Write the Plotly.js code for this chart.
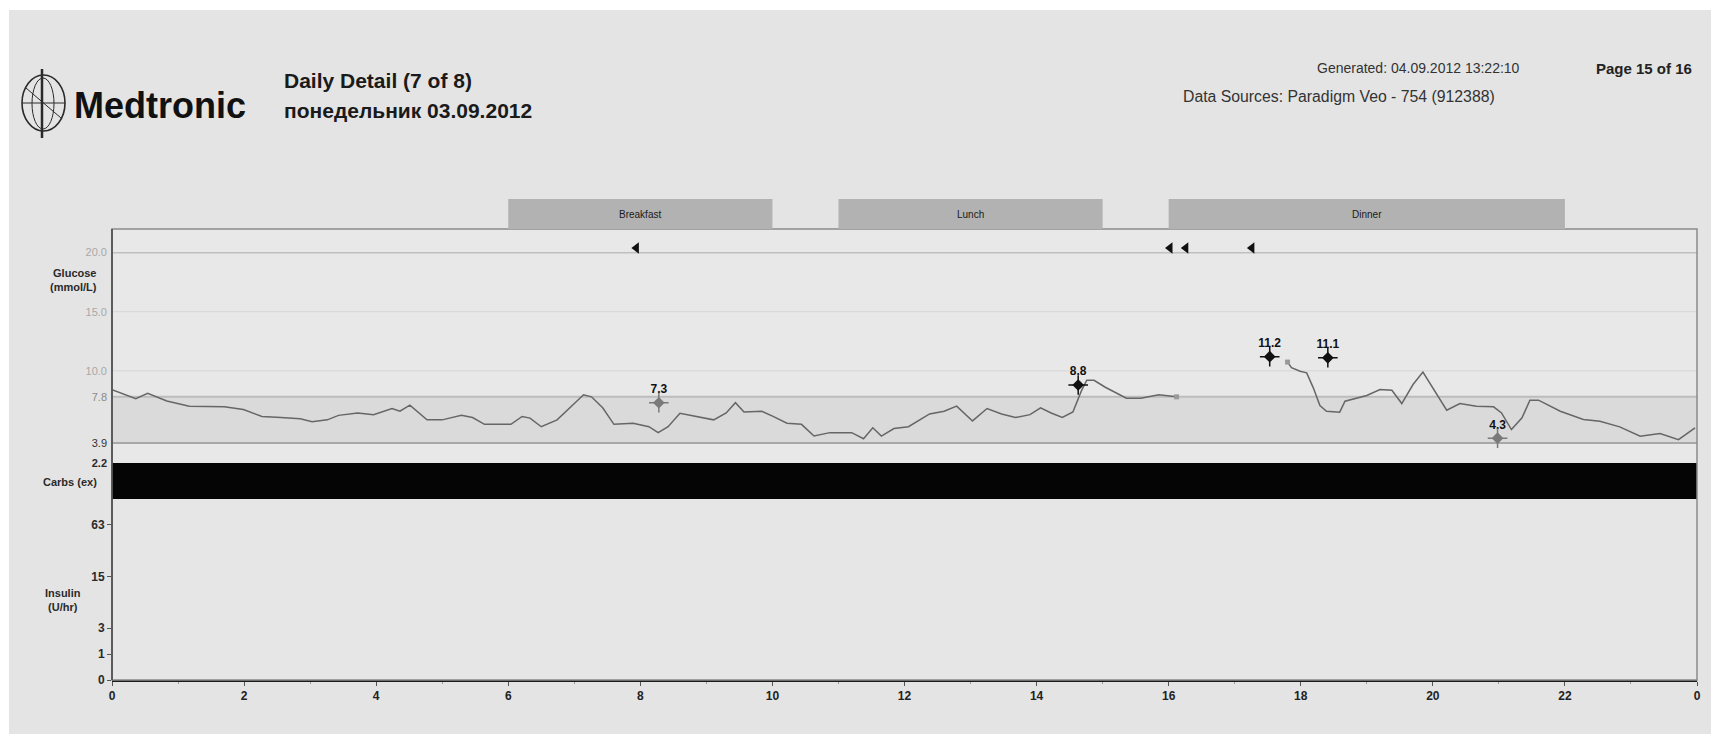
<!DOCTYPE html>
<html>
<head>
<meta charset="utf-8">
<script src="https://cdn.plot.ly/plotly-3.0.1.min.js"></script>
<style>
  html, body { margin: 0; padding: 0; background: #ffffff; }
  #chart { width: 1711px; height: 734px; }
</style>
</head>
<body>
<div id="chart"></div>
<script>
// ---------------- DATA ----------------
// Sensor glucose (mmol/L), segment 1 (before sensor gap)
const sgHours1 = [0.00,0.36,0.54,0.83,1.17,1.70,1.99,2.27,2.56,2.85,3.03,3.26,3.43,3.72,3.96,4.24,4.36,4.51,4.77,5.00,5.29,5.46,5.64,6.04,6.21,6.33,6.50,6.74,7.14,7.26,7.43,7.60,7.89,8.13,8.27,8.42,8.60,8.87,9.11,9.30,9.44,9.57,9.84,10.01,10.22,10.44,10.63,10.87,11.20,11.38,11.52,11.65,11.84,12.06,12.38,12.60,12.79,13.03,13.25,13.47,13.68,13.90,14.06,14.22,14.39,14.55,14.63,14.68,14.76,14.87,15.04,15.36,15.58,15.85,16.12];
const sgValues1 = [8.4,7.65,8.09,7.45,7.0,6.96,6.72,6.14,6.05,5.94,5.7,5.85,6.23,6.43,6.29,6.81,6.58,7.1,5.85,5.85,6.23,6.05,5.47,5.47,6.14,6.0,5.27,5.85,7.97,7.8,6.87,5.47,5.56,5.27,4.77,5.27,6.4,6.14,5.85,6.43,7.3,6.52,6.58,6.14,5.56,5.47,4.48,4.77,4.77,4.25,5.18,4.48,5.12,5.27,6.35,6.58,7.01,5.76,6.81,6.35,6.05,6.29,6.87,6.43,6.05,6.52,7.6,8.32,9.2,9.2,8.61,7.68,7.68,7.97,7.8];
// Sensor glucose, segment 2 (after gap)
const sgHours2 = [17.80,17.86,17.99,18.09,18.19,18.29,18.39,18.59,18.67,18.85,19.00,19.20,19.38,19.53,19.70,19.85,20.01,20.21,20.41,20.66,20.92,21.04,21.19,21.35,21.47,21.60,21.93,22.28,22.53,22.83,23.14,23.44,23.72,23.97];
const sgValues2 = [10.74,10.26,9.97,9.83,8.56,7.06,6.58,6.5,7.43,7.71,7.91,8.42,8.36,7.23,8.84,9.89,8.42,6.67,7.23,7.01,6.95,6.44,5.03,6.02,7.52,7.52,6.58,5.88,5.74,5.26,4.46,4.69,4.18,5.17];
// Sensor segment end points (small grey squares)
const sgEdgeHours = [16.12, 17.80];
const sgEdgeValues = [7.8, 10.74];

// Meter BG readings
const bgHours = [8.28, 14.63, 17.53, 18.41, 20.98];
const bgValues = [7.3, 8.8, 11.2, 11.1, 4.3];
const bgLabels = ["7.3", "8.8", "11.2", "11.1", "4.3"];
const bgUsedForCal = [false, true, true, true, false];

// Bolus events (hours)
const bolusHours = [7.94, 16.02, 16.26, 17.26];
const bolusLevel = 20.4;

// Meal periods
const mealNames = ["Breakfast", "Lunch", "Dinner"];
const mealStart = [6, 11, 16];
const mealEnd = [10, 15, 22];

// Target range (mmol/L)
const targetLow = 3.9;
const targetHigh = 7.8;

// Axis ticks
const xTickVals = [0,2,4,6,8,10,12,14,16,18,20,22,24];
const xTickText = ["0","2","4","6","8","10","12","14","16","18","20","22","0"];
const glucoseTickVals = [3.9, 7.8, 10.0, 15.0, 20.0];
const glucoseTickText = ["3.9", "7.8", "10.0", "15.0", "20.0"];
const glucoseTickColors = ["#333333", "#8a8a8a", "#a8a8a8", "#a8a8a8", "#a8a8a8"];
const carbsTickVals = [2.2];
const carbsTickText = ["2.2"];
const insulinTickUnits = [0, 1, 3, 15, 63];
const insulinTickText = ["0", "1", "3", "15", "63"];

// ---------------- LAYOUT HELPERS ----------------
const W = 1711, H = 734;
const L = 112, R = 1697, T = 229, B = 680;
const PW = R - L, PH = B - T;
const px = x => (x - L) / PW;
const py = y => (B - y) / PH;

const FONT = "Liberation Sans Narrow, Liberation Sans, Arial, sans-serif";
const FONT_REG = "Liberation Sans, Arial, sans-serif";

const domIns = [0, py(499)];
const domCarb = [py(499), py(463)];
const domGlu = [py(463), 1];

// ---------------- TRACES ----------------
const sgX = sgHours1.concat([null], sgHours2);
const sgY = sgValues1.concat([null], sgValues2);

const traces = [
  {
    x: sgX, y: sgY, xaxis: "x", yaxis: "y", type: "scatter", mode: "lines",
    line: { color: "#666666", width: 1.5 }, connectgaps: false, hoverinfo: "x+y", showlegend: false
  },
  {
    x: sgEdgeHours, y: sgEdgeValues, xaxis: "x", yaxis: "y", type: "scatter", mode: "markers",
    marker: { symbol: "square", size: 5, color: "#9a9a9a" }, showlegend: false
  },
  {
    x: bgHours, y: bgValues, xaxis: "x", yaxis: "y", type: "scatter", mode: "markers+text",
    text: bgLabels, textposition: "top center",
    textfont: { family: FONT, size: 12, color: "#111", weight: "bold" },
    marker: { symbol: "diamond", size: 9, color: bgUsedForCal.map(c => c ? "#111" : "#7a7a7a") },
    showlegend: false
  },
  {
    x: bgHours, y: bgValues, xaxis: "x", yaxis: "y", type: "scatter", mode: "markers",
    marker: { symbol: "cross-thin", size: 14, line: { width: 1.5, color: bgUsedForCal.map(c => c ? "#111" : "#7a7a7a") } },
    showlegend: false, hoverinfo: "skip"
  },
  {
    x: bolusHours, y: bolusHours.map(() => bolusLevel), xaxis: "x", yaxis: "y", type: "scatter", mode: "markers",
    marker: { symbol: "triangle-left", size: 10, color: "#111" }, showlegend: false
  },
  // invisible traces to activate carbs and insulin axes
  { x: [0, 24], y: [0, 0], xaxis: "x", yaxis: "y2", type: "scatter", mode: "lines", line: { width: 0 }, hoverinfo: "skip", showlegend: false },
  { x: [0, 24], y: [0, 0], xaxis: "x", yaxis: "y3", type: "scatter", mode: "lines", line: { width: 0 }, hoverinfo: "skip", showlegend: false }
];

// ---------------- SHAPES ----------------
const shapes = [];
// page background (thin white border top/left)
shapes.push({ type: "rect", xref: "paper", yref: "paper", x0: px(9), x1: px(W + 5), y0: py(H + 5), y1: py(10),
  fillcolor: "#e4e4e4", line: { width: 0 }, layer: "below" });
// glucose panel background
shapes.push({ type: "rect", xref: "paper", yref: "paper", x0: 0, x1: 1, y0: domGlu[0], y1: 1,
  fillcolor: "#e8e8e8", line: { width: 0 }, layer: "below" });
// target band
shapes.push({ type: "rect", xref: "x domain", yref: "y", x0: 0, x1: 1, y0: targetLow, y1: targetHigh,
  fillcolor: "#dadada", line: { width: 0 }, layer: "below" });
// glucose grid lines
[[20.0, "#bfbfbf", 1.5], [15.0, "#d5d5d5", 1], [10.0, "#d5d5d5", 1]].forEach(g => {
  shapes.push({ type: "line", xref: "x domain", yref: "y", x0: 0, x1: 1, y0: g[0], y1: g[0],
    line: { color: g[1], width: g[2] }, layer: "below" });
});
shapes.push({ type: "line", xref: "x domain", yref: "y", x0: 0, x1: 1, y0: targetHigh, y1: targetHigh,
  line: { color: "#bcbcbc", width: 2 }, layer: "below" });
shapes.push({ type: "line", xref: "x domain", yref: "y", x0: 0, x1: 1, y0: targetLow, y1: targetLow,
  line: { color: "#a8a8a8", width: 2 }, layer: "below" });
// insulin panel background
shapes.push({ type: "rect", xref: "paper", yref: "paper", x0: 0, x1: 1, y0: 0, y1: domIns[1],
  fillcolor: "#e6e6e6", line: { width: 0 }, layer: "below" });
// carbs band (black)
shapes.push({ type: "rect", xref: "paper", yref: "paper", x0: 0, x1: 1, y0: domCarb[0], y1: domCarb[1],
  fillcolor: "#050505", line: { width: 0 } });
// plot frame
shapes.push({ type: "rect", xref: "paper", yref: "paper", x0: 0, x1: 1, y0: 0, y1: 1,
  line: { color: "#8a8a8a", width: 1.5 }, fillcolor: "rgba(0,0,0,0)" });
shapes.push({ type: "line", xref: "paper", yref: "paper", x0: 0, x1: 0, y0: 0, y1: 1,
  line: { color: "#444", width: 1.5 } });
// meal bars
mealNames.forEach((m, i) => {
  shapes.push({ type: "rect", xref: "x", yref: "paper", x0: mealStart[i], x1: mealEnd[i], y0: 1, y1: py(199),
    fillcolor: "#b2b2b2", line: { width: 0 } });
});
// Medtronic globe logo
const logo = "#2a2a2a";
shapes.push({ type: "circle", xref: "paper", yref: "paper", x0: px(22), x1: px(65), y0: py(131), y1: py(75),
  line: { color: logo, width: 1.6 } });
shapes.push({ type: "line", xref: "paper", yref: "paper", x0: px(42), x1: px(42), y0: py(138), y1: py(69),
  line: { color: logo, width: 2.5 } });
shapes.push({ type: "circle", xref: "paper", yref: "paper", x0: px(32), x1: px(54), y0: py(129), y1: py(78),
  line: { color: logo, width: 1 } });
shapes.push({ type: "line", xref: "paper", yref: "paper", x0: px(22), x1: px(65), y0: py(103), y1: py(103),
  line: { color: logo, width: 1 } });
shapes.push({ type: "line", xref: "paper", yref: "paper", x0: px(26), x1: px(61), y0: py(88), y1: py(118),
  line: { color: logo, width: 1 } });

// ---------------- ANNOTATIONS ----------------
const annotations = [];
mealNames.forEach((m, i) => {
  annotations.push({ text: m, xref: "x", yref: "paper", x: (mealStart[i] + mealEnd[i]) / 2, y: py(214),
    showarrow: false, xanchor: "center", yanchor: "middle", font: { family: FONT, size: 10, color: "#1a1a1a" } });
});
const titleFont = { family: FONT, size: 11, color: "#2a2a2a", weight: "bold" };
annotations.push({ text: "Glucose<br>(mmol/L)", xref: "paper", yref: "paper", x: 0, xshift: -13, y: py(280),
  xanchor: "right", yanchor: "middle", align: "right", showarrow: false, font: titleFont });
annotations.push({ text: "Carbs (ex)", xref: "paper", yref: "paper", x: 0, xshift: -13, y: py(482),
  xanchor: "right", yanchor: "middle", align: "right", showarrow: false, font: titleFont });
annotations.push({ text: "Insulin<br>(U/hr)", xref: "paper", yref: "paper", x: 0, xshift: -29, y: py(600),
  xanchor: "right", yanchor: "middle", align: "center", showarrow: false, font: titleFont });
// header
annotations.push({ text: "<b>Medtronic</b>", xref: "paper", yref: "paper", x: px(72), y: py(105),
  xanchor: "left", yanchor: "middle", showarrow: false,
  font: { family: FONT_REG, size: 36, color: "#111" } });
annotations.push({ text: "<b>Daily Detail (7 of 8)</b>", xref: "paper", yref: "paper", x: px(282), y: py(80),
  xanchor: "left", yanchor: "middle", showarrow: false,
  font: { family: FONT, size: 21, color: "#1a1a1a" } });
annotations.push({ text: "<b>понедельник 03.09.2012</b>", xref: "paper", yref: "paper", x: px(282), y: py(111),
  xanchor: "left", yanchor: "middle", showarrow: false,
  font: { family: FONT, size: 21, color: "#1a1a1a" } });
annotations.push({ text: "Generated: 04.09.2012 13:22:10", xref: "paper", yref: "paper", x: px(1522), y: py(68),
  xanchor: "right", yanchor: "middle", showarrow: false,
  font: { family: FONT_REG, size: 14, color: "#333" } });
annotations.push({ text: "<b>Page 15 of 16</b>", xref: "paper", yref: "paper", x: px(1694), y: py(68),
  xanchor: "right", yanchor: "middle", showarrow: false,
  font: { family: FONT_REG, size: 15, color: "#222" } });
annotations.push({ text: "Data Sources: Paradigm Veo - 754 (912388)", xref: "paper", yref: "paper", x: px(1181), y: py(97),
  xanchor: "left", yanchor: "middle", showarrow: false,
  font: { family: FONT_REG, size: 15.8, color: "#333" } });

// ---------------- LAYOUT ----------------
const tickFont = { family: FONT, size: 11, color: "#2a2a2a" };
const layout = {
  width: W, height: H,
  margin: { l: L, r: W - R, t: T, b: H - B, pad: 0 },
  paper_bgcolor: "#ffffff",
  plot_bgcolor: "rgba(0,0,0,0)",
  showlegend: false,
  xaxis: {
    domain: [0, 1], range: [0, 24], anchor: "y3",
    tickvals: xTickVals, ticktext: xTickText, ticks: "outside", ticklen: 4, tickcolor: "#555",
    minor: { dtick: 1, tick0: 0, ticks: "outside", ticklen: 2, tickcolor: "#999" },
    showgrid: false, zeroline: false, showline: true, linecolor: "#1a1a1a", linewidth: 2,
    tickfont: { family: FONT, size: 12, color: "#222", weight: "bold" }, fixedrange: true
  },
  yaxis: {
    domain: domGlu, range: [2.2, 22.0], anchor: "x",
    tickvals: glucoseTickVals,
    ticktext: glucoseTickText.map((t, i) => `<span style="color:${glucoseTickColors[i]}">${t}</span>`),
    ticks: "", showgrid: false, zeroline: false, showline: false,
    tickfont: tickFont, ticklabelstandoff: 4
  },
  yaxis2: {
    domain: domCarb, range: [0, 2.2], anchor: "x",
    tickvals: carbsTickVals, ticktext: carbsTickText, ticks: "",
    showgrid: false, zeroline: false, showline: false,
    tickfont: { family: FONT, size: 11, color: "#2a2a2a", weight: "bold" }, ticklabelstandoff: 4
  },
  yaxis3: {
    domain: domIns, range: [0, 7], anchor: "x",
    tickvals: insulinTickUnits.map(u => Math.log2(1 + u)), ticktext: insulinTickText,
    ticks: "outside", ticklen: 4, tickcolor: "#555",
    showgrid: false, zeroline: false, showline: false,
    tickfont: { family: FONT, size: 12, color: "#2a2a2a", weight: "bold" }
  },
  shapes: shapes,
  annotations: annotations
};

Plotly.newPlot("chart", traces, layout, { displayModeBar: false, staticPlot: true });
</script>
</body>
</html>
